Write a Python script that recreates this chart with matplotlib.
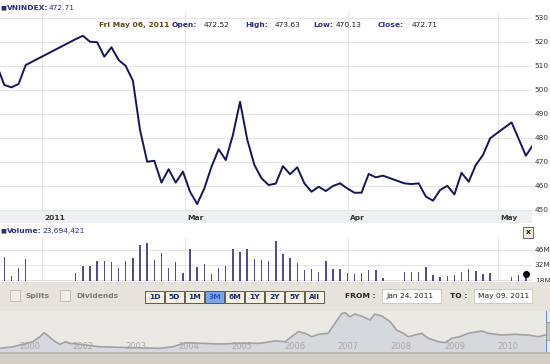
import matplotlib
matplotlib.use("Agg")
import matplotlib.pyplot as plt
from matplotlib.patches import Rectangle

# VN-Index close, x = trading-day number (weekdays from Jan 25 2011, holidays left as gaps)
days = [-1, 0, 1, 2, 3, 10, 11, 12, 13, 14, 15, 16, 17, 18, 19, 20, 21, 22, 23, 24, 25,
        26, 27, 28, 29, 30, 31, 32, 33, 34, 35, 36, 37, 38, 39, 40, 41, 42, 43, 44, 45,
        46, 47, 48, 49, 50, 51, 52, 53, 56, 57, 58, 59, 60, 61, 62, 63, 64, 65, 66, 67,
        68, 71, 72, 73, 74]
close = [510.0, 502.1, 501.1, 502.5, 510.4, 521.2, 522.6, 520.1, 519.9, 513.9, 517.8,
         512.5, 510.0, 503.9, 483.3, 470.1, 470.5, 461.4, 467.0, 461.4, 466.0, 457.6,
         452.5, 459.0, 468.0, 475.3, 470.8, 481.3, 495.1, 479.4, 468.8, 463.2, 460.4,
         461.0, 468.3, 464.9, 467.8, 461.1, 457.6, 459.7, 457.9, 460.0, 461.1, 459.0,
         457.2, 457.2, 465.0, 463.6, 464.3, 461.1, 460.8, 461.1, 455.6, 453.9, 458.3,
         460.1, 456.5, 465.5, 461.8, 468.8, 472.9, 479.9, 486.5, 479.6, 472.6, 477.1]

# volume in millions of shares
vol_days = [0, 1, 2, 3] + list(range(10, 54)) + list(range(56, 69)) + [71, 72, 73]
volume = [39.7, 22.0, 29.5, 37.6,
          24.8, 31.3, 31.3, 35.7, 35.7, 34.5, 29.5, 35.7, 38.2, 50.7, 52.8, 36.7, 42.9,
          28.9, 34.5, 24.3, 46.9, 30.4, 32.6, 23.3, 29.5, 31.1, 46.6, 43.8, 46.6, 37.6,
          36.7, 35.7, 54.4, 42.3, 38.2, 33.6, 27.3, 28.0, 25.2, 35.7, 28.3, 28.0, 24.3,
          23.6, 24.3, 27.3, 27.3, 20.1,
          25.2, 25.2, 25.2, 29.8, 22.7, 21.1, 21.7, 22.7, 25.7, 28.3, 26.4, 23.3, 24.3,
          21.1, 22.7, 23.7]

month_pos = [5.3, 25.3, 48.1, 69.1]
month_labels = ["2011", "Mar", "Apr", "May"]
price_ticks = [450, 460, 470, 480, 490, 500, 510, 520, 530]
vol_ticks = [18, 32, 46]
vol_labels = ["18M", "32M", "46M"]

# long history for the navigator strip
nav_year = [2000.49, 2000.74, 2001.11, 2001.24, 2001.32, 2001.40, 2001.53, 2001.62, 2001.72,
            2001.81, 2002.00, 2002.37, 2003.00, 2003.50, 2003.75, 2003.98, 2004.26, 2004.63,
            2005.01, 2005.39, 2005.58, 2005.67, 2005.86, 2005.98, 2006.11, 2006.24, 2006.36,
            2006.49, 2006.67, 2006.80, 2006.93, 2006.99, 2007.08, 2007.18, 2007.33, 2007.46,
            2007.55, 2007.68, 2007.84, 2007.96, 2008.09, 2008.18, 2008.31, 2008.43, 2008.56,
            2008.75, 2008.87, 2009.00, 2009.15, 2009.31, 2009.56, 2009.69, 2009.94, 2010.19,
            2010.44, 2010.63, 2010.76]
nav_level = [82, 131, 284, 436, 558, 458, 284, 204, 284, 235, 204, 131, 101, 82, 131, 253,
             235, 214, 235, 235, 284, 310, 284, 436, 589, 540, 436, 509, 540, 845, 1150, 1168,
             1046, 1128, 1046, 945, 1128, 1067, 894, 640, 540, 436, 488, 540, 387, 284, 253,
             387, 436, 540, 610, 540, 488, 509, 488, 436, 488]
nav_ticks = [2001, 2002, 2003, 2004, 2005, 2006, 2007, 2008, 2009, 2010]
nav_labels = ["2000", "2002", "2003", "2004", "2005", "2006", "2007", "2008", "2009", "2010"]

W, H = 550, 364
FS = 5.4
NAVY = "#2b2f7a"


def box(x, y, w, h):
    return [x / W, 1 - (y + h) / H, w / W, h / H]


fig = plt.figure(figsize=(5.5, 3.64), dpi=100)
fig.patch.set_facecolor("white")


def rect(x, y, w, h, fc, ec="none", lw=0, z=-1):
    fig.patches.append(Rectangle((x / W, 1 - (y + h) / H), w / W, h / H,
                                 transform=fig.transFigure, fc=fc, ec=ec, lw=lw, zorder=z))


def txt(x, y, s, **kw):
    kw.setdefault("fontsize", FS)
    fig.text(x / W, 1 - y / H, s, va="center", zorder=6, **kw)


# header lines
txt(0, 8, "\u25a0", color=NAVY, fontsize=4.5)
txt(7, 8, "VNINDEX:", color=NAVY, fontweight="bold")
txt(49, 8, "472.71", color=NAVY)
txt(99, 25, "Fri May 06, 2011", color="#5a4818", fontweight="bold")
txt(172, 25, "Open:", color=NAVY, fontweight="bold")
txt(204, 25, "472.52", color="#222222")
txt(245, 25, "High:", color=NAVY, fontweight="bold")
txt(275, 25, "473.63", color="#222222")
txt(313, 25, "Low:", color=NAVY, fontweight="bold")
txt(336, 25, "470.13", color="#222222")
txt(378, 25, "Close:", color=NAVY, fontweight="bold")
txt(412, 25, "472.71", color="#222222")

# price panel
ax = fig.add_axes(box(0, 12, 532, 199))
ax.plot(days, close, color="#15155c", lw=1.4, zorder=3)
ax.set_xlim(-0.6, 73.86)
ax.set_ylim(449.58, 532.5)
ax.set_yticks(price_ticks)
ax.yaxis.tick_right()
ax.tick_params(axis="y", length=0, pad=2, labelsize=FS, labelcolor="#333333")
ax.set_xticks(month_pos)
ax.tick_params(axis="x", length=0, labelbottom=False)
ax.grid(color="#e6e6e6", lw=0.8)
for s in ax.spines.values():
    s.set_visible(False)

# month band
rect(0, 211, 532, 12, "#eef0f4")
for p, lab in zip(month_pos, month_labels):
    ax.text(p + 0.25, -(218 - 211) / 199, lab, transform=ax.get_xaxis_transform(),
            fontsize=FS, fontweight="bold", color="#333333", va="center", ha="left")

# volume panel
txt(0, 231, "\u25a0", color=NAVY, fontsize=4.5)
txt(7, 231, "Volume:", color=NAVY, fontweight="bold")
txt(42, 231, "23,694,421", color=NAVY)
rect(523, 227, 10, 11, "#f1ecdc", ec="#555555", lw=0.6, z=5)
txt(528, 232.5, "x", color="#111111", fontweight="bold", ha="center")

av = fig.add_axes(box(0, 237, 532, 44))
av.bar(vol_days, volume, width=0.2, color="#4d4d8f", zorder=3)
av.plot(vol_days[-1], volume[-1], "o", color="black", ms=4, zorder=4, clip_on=False)
av.set_xlim(-0.6, 73.86)
av.set_ylim(17.07, 58.1)
av.set_yticks(vol_ticks)
av.set_yticklabels(vol_labels)
av.yaxis.tick_right()
av.tick_params(axis="y", length=0, pad=2, labelsize=FS, labelcolor="#333333")
av.set_xticks(month_pos)
av.tick_params(axis="x", length=0, labelbottom=False)
av.grid(color="#e6e6e6", lw=0.8)
for s in av.spines.values():
    s.set_visible(False)

# control bar
rect(0, 282, 550, 29, "#e6e3dc", z=4)
rect(10, 290, 10, 11, "#efede8", ec="#bcb8ae", lw=0.6, z=5)
txt(26, 296, "Splits", color="#7a7a7a", fontweight="bold")
rect(60, 290, 10, 11, "#efede8", ec="#bcb8ae", lw=0.6, z=5)
txt(76, 296, "Dividends", color="#7a7a7a", fontweight="bold")
buttons = ["1D", "5D", "1M", "3M", "6M", "1Y", "2Y", "5Y", "All"]
for k, b in enumerate(buttons):
    bx = 145 + k * 20
    sel = b == "3M"
    rect(bx, 291, 19, 12, "#7ea4e4" if sel else "#f5f1e2", ec="#4a4636", lw=0.6, z=5)
    txt(bx + 9.5, 297, b, color="#2a56c0" if sel else "#1c2a6a", fontweight="bold", ha="center")
txt(345, 296, "FROM :", color="#222222", fontweight="bold")
rect(382, 289, 59, 14, "white", ec="#c8c4ba", lw=0.6, z=5)
txt(386, 296, "Jan 24. 2011", color="#222222")
txt(450, 296, "TO :", color="#222222", fontweight="bold")
rect(474, 289, 58, 14, "white", ec="#c8c4ba", lw=0.6, z=5)
txt(478, 296, "May 09. 2011", color="#222222")

# navigator
an = fig.add_axes(box(0, 311, 550, 41))
an.set_facecolor("#ebe9e4")
an.fill_between(nav_year, nav_level, -100, color="#d5d9de", zorder=2)
an.plot(nav_year, nav_level, color="#a2a2a2", lw=1.2, zorder=3)
an.set_xlim(2000.49, 2010.85)
an.set_ylim(-30, 1220)
an.set_xticks([])
an.set_yticks([])
for s in an.spines.values():
    s.set_visible(False)
for p, lab in zip(nav_ticks, nav_labels):
    an.text(p + 0.05, (352 - 346.5) / 41, lab, transform=an.get_xaxis_transform(),
            fontsize=FS + 0.6, color="#a8a8a8", ha="center", va="center", zorder=4)
rect(546, 311, 1.2, 41, "#5a8ed8", z=5)
rect(546, 322, 4, 18, "#c9c6bf", ec="#8a8a8a", lw=0.5, z=5)

# bottom strip
rect(0, 352, 550, 12, "#d3cfc6", z=4)
rect(0, 352, 550, 1.5, "#bdb8ae", z=4)

fig.savefig("out.png", dpi=100, facecolor=fig.get_facecolor())
